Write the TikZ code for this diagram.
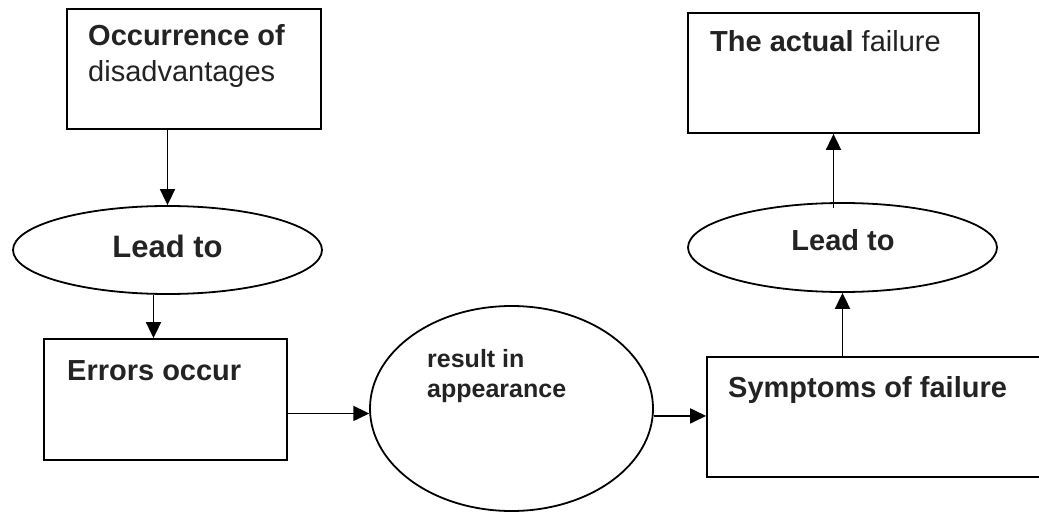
\documentclass[tikz,border=0pt]{standalone}
\usepackage{fontspec}
\setmainfont{Liberation Sans}
\usetikzlibrary{shapes.geometric,arrows.meta}
\definecolor{textgray}{RGB}{35,35,35}
\begin{document}
\begin{tikzpicture}[x=1pt,y=-1pt,
  boxshape/.style={draw,line width=1.8pt,rectangle,inner sep=0pt},
  ovalshape/.style={draw,line width=1.8pt,ellipse,inner sep=0pt},
  txt/.style={anchor=base west,inner sep=0pt,text=textgray,align=left},
  ctxt/.style={anchor=base,inner sep=0pt,text=textgray},
  arr/.style={line width=1.8pt,-{Triangle[length=16pt,width=15pt]}}]
\useasboundingbox (0,0) rectangle (1039,513);

% shapes
\node[boxshape,minimum width=254pt,minimum height=120pt] (b1) at (194,69) {};
\node[ovalshape,minimum width=309pt,minimum height=88pt] (e1) at (167.5,250) {};
\node[boxshape,minimum width=243pt,minimum height=121pt] (b2) at (165.5,399.5) {};
\node[ovalshape,minimum width=283pt,minimum height=205pt] (e2) at (511.5,408.5) {};
\node[boxshape,minimum width=338pt,minimum height=120pt] (b3) at (876,417) {};
\node[ovalshape,minimum width=309pt,minimum height=89pt] (e3) at (842.5,247.5) {};
\node[boxshape,minimum width=291pt,minimum height=120pt] (b4) at (833.5,73) {};

% texts (multi-line nodes: base = baseline of last line)
\node[txt,font=\fontsize{29}{36}\selectfont] (t1) at (88,82) {\textbf{Occurrence of}\\disadvantages};
\node[ctxt,font=\fontsize{31}{36}\selectfont\bfseries] (t5) at (167.5,258) {Lead to};
\node[txt,font=\fontsize{29}{36}\selectfont\bfseries] (t2) at (67,380) {Errors occur};
\node[txt,font=\fontsize{25}{30}\selectfont\bfseries] (t3) at (427,397) {result in\\appearance};
\node[txt,font=\fontsize{29}{36}\selectfont\bfseries] (t4) at (728,397) {Symptoms of failure};
\node[ctxt,font=\fontsize{29}{36}\selectfont\bfseries] (t6) at (843,251) {Lead to};
\node[txt,font=\fontsize{29}{36}\selectfont] (t7) at (710,52) {\textbf{The actual} failure};

% connectors
\draw[arr] (b1.south -| e1.north) -- (e1.north);
\draw[arr] ([xshift=-14pt]e1.south) -- ([xshift=-14pt]e1.south |- b2.north);
\draw[arr] (b2.east |- e2.182.4) -- (e2.182.4);
\draw[arr] (e2.-3) -- (e2.-3 -| b3.west);
\draw[arr] (e3.south |- b3.north) -- (e3.south);
\draw[arr,shorten <=-6pt] (b4.south |- e3.north) -- (b4.south);
\end{tikzpicture}
\end{document}
